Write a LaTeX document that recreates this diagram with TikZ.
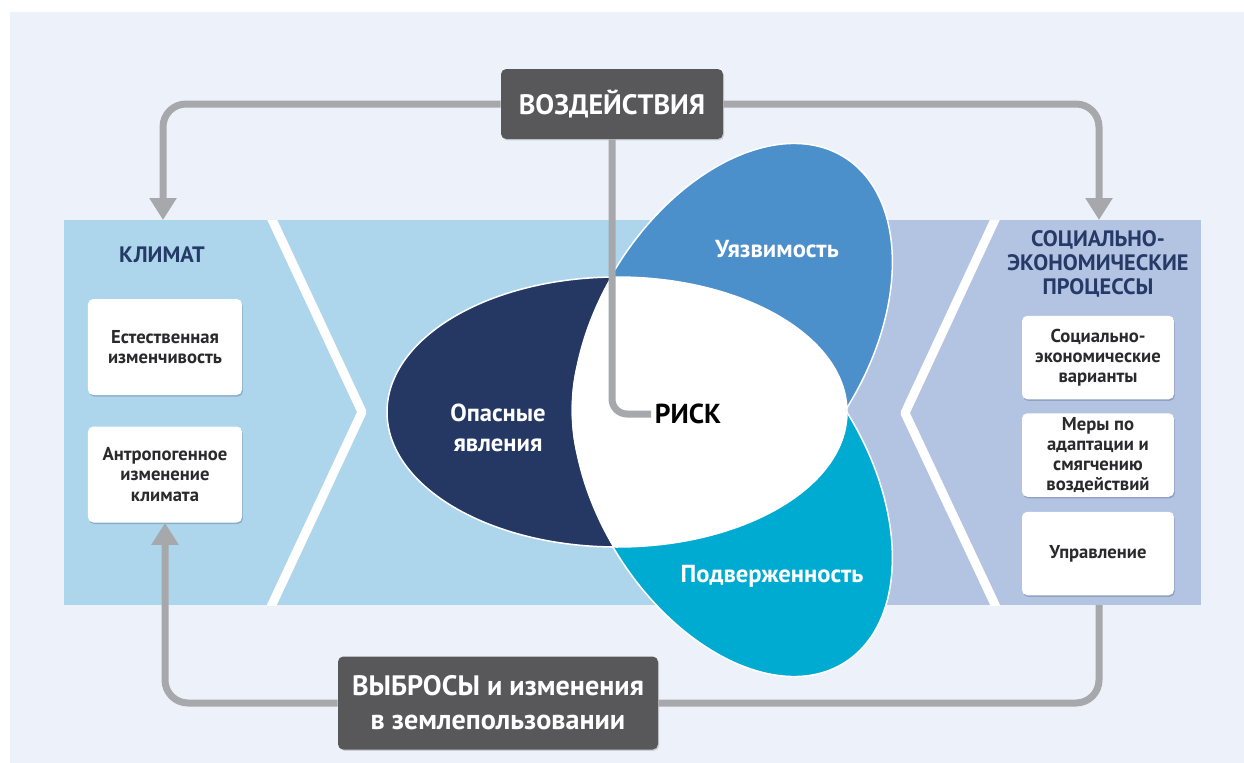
\documentclass[tikz,border=0pt]{standalone}
\usepackage{fontspec}
\setmainfont{PT Sans}
\usetikzlibrary{arrows.meta}
\usetikzlibrary{shadows}

\definecolor{pagebg}{HTML}{EDF2FA}
\definecolor{climblue}{HTML}{ADD6EC}
\definecolor{socblue}{HTML}{B3C3E2}
\definecolor{hazardnavy}{HTML}{253864}
\definecolor{vulnblue}{HTML}{4B8FCB}
\definecolor{expocyan}{HTML}{00ABD1}
\definecolor{darkgrey}{HTML}{58585A}
\definecolor{flowgrey}{HTML}{A7A8AB}
\definecolor{titlenavy}{HTML}{263A68}
\definecolor{boxtext}{HTML}{2A2A2C}

\tikzset{
whitebox/.style={ % white boxes in the side panels
  rectangle, rounded corners=3pt, fill=white, text=boxtext,
  font=\bfseries\fontsize{10.6}{11.4}\selectfont, align=center, inner sep=0pt,
  drop shadow={opacity=0.25, shadow xshift=0.5pt, shadow yshift=-0.9pt, fill=hazardnavy}},
leftbox/.style={whitebox, minimum width=30.8mm, minimum height=19.2mm},
rightbox/.style={whitebox, minimum width=30.4mm, minimum height=16.7mm},
darkbox/.style={ % grey label boxes on the loop
  rectangle, rounded corners=3pt, fill=darkgrey, text=white,
  font=\bfseries\fontsize{16}{19.4}\selectfont, align=center, inner sep=0pt,
  drop shadow={opacity=0.3, shadow xshift=0.6pt, shadow yshift=-0.8pt}},
paneltitle/.style={text=titlenavy, font=\bfseries\fontsize{12.7}{13.7}\selectfont, align=center},
petal/.style={text=white, font=\bfseries\fontsize{14}{17}\selectfont, align=center},
flow/.style={draw=flowgrey, line width=1.4mm, rounded corners=4.6mm},
chevron/.style={draw=white, line width=1.8mm, line join=round},
tip/.style={-{Triangle[width=5.2mm, length=4.4mm]}}
}

\begin{document}
\begin{tikzpicture}[x=0.2mm, y=-0.2mm]
\useasboundingbox (0,0) rectangle (1244,763);
\fill[pagebg] (10,12) rectangle (1244,763);

% side panels
\fill[climblue] (64,220) rectangle (848,605);
\fill[socblue] (848,220) rectangle (1201,605);
\begin{scope}
\clip (64,220) rectangle (1201,605);
\draw[chevron] (262,198) -- (362,412) -- (262,626);
\draw[chevron] (1005,198) -- (905,413) -- (1005,626);
\end{scope}

% three ellipses
\fill[vulnblue, draw=white, line width=0.3mm, rotate around={58:(732,337)}] (732,337) ellipse [x radius=212, y radius=135];
\fill[expocyan, draw=white, line width=0.3mm, rotate around={-58:(732,483)}] (732,483) ellipse [x radius=212, y radius=135];
\fill[hazardnavy, draw=white, line width=0.3mm] (617,412) ellipse [x radius=230, y radius=135];
\begin{scope}
\clip (617,412) ellipse [x radius=230, y radius=135];
\fill[white, rotate around={58:(732,337)}] (732,337) ellipse [x radius=212, y radius=135];
\fill[white, rotate around={-58:(732,483)}] (732,483) ellipse [x radius=212, y radius=135];
\end{scope}

\node[petal] (hazard) at (498,428) {Опасные\\явления};
\node[petal] (vuln) at (777,249) {Уязвимость};
\node[petal] (expo) at (772,576) {Подверженность};
\node[text=black, font=\bfseries\fontsize{15.6}{19}\selectfont, inner sep=2pt] (risk) at (688,414) {РИСК};

% panel contents
\node[paneltitle] (climate) at (162,255) {КЛИМАТ};
\node[leftbox] (natvar) at (165,347) {Естественная\\изменчивость};
\node[leftbox] (anthro) at (165,474.5) {Антропогенное\\изменение\\климата};

\node[paneltitle] (socio) at (1098,264) {СОЦИАЛЬНО-\\ЭКОНОМИЧЕСКИЕ\\ПРОЦЕССЫ};
\node[rightbox] (socvar) at (1098,357.5) {Социально-\\экономические\\варианты};
\node[rightbox] (adapt) at (1098,455) {Меры по\\адаптации и\\смягчению\\воздействий};
\node[rightbox] (govern) at (1098,553.5) {Управление};

% loop boxes
\node[darkbox, minimum width=44.4mm, minimum height=14mm] (impacts) at (612,104) {ВОЗДЕЙСТВИЯ};
\node[darkbox, minimum width=64mm, minimum height=18.6mm] (emissions) at (498,703) {ВЫБРОСЫ и изменения\\в землепользовании};

\coordinate (clim-top) at (163,220);
\coordinate (soc-top) at (1099,220);
\coordinate (soc-bottom) at (1099,605);

% connectors
\draw[flow, tip] (impacts.west) -| (clim-top);
\draw[flow, tip] (impacts.east) -| (soc-top);
\draw[flow, rounded corners=3mm] (impacts.south) |- (risk.west);
\draw[flow] (soc-bottom) |- (emissions.east);
\draw[flow, tip] (emissions.west) -| (anthro.south);
\end{tikzpicture}
\end{document}
